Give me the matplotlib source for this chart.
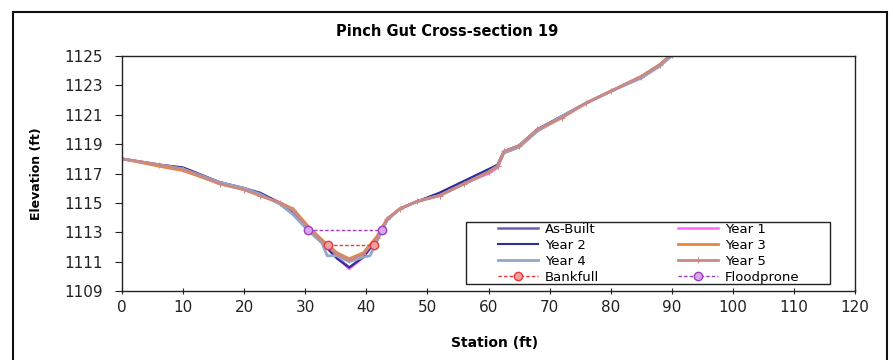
import matplotlib
matplotlib.use("Agg")
import matplotlib.pyplot as plt
from matplotlib.patches import Rectangle

plt.rcParams['font.family'] = ['DejaVu Sans']

title = "Pinch Gut Cross-section 19"
xlabel = "Station (ft)"
ylabel = "Elevation (ft)"

station = [0, 6, 10, 16, 20, 22.6, 25.9, 28, 30.5, 32.7, 35.2, 37.2, 39.5, 41.7, 43.4, 45.5, 48.3, 52, 56, 60, 61.5, 62.5, 65, 68, 72, 76, 80, 85, 88, 90]

as_built = [1118.0, 1117.6, 1117.4, 1116.4, 1116.0, 1115.6, 1115.0, 1114.4, 1113.2, 1112.3, 1111.3, 1110.6, 1111.3, 1112.5, 1113.9, 1114.6, 1115.1, 1115.6, 1116.4, 1117.2, 1117.6, 1118.5, 1118.9, 1120.0, 1120.9, 1121.8, 1122.6, 1123.6, 1124.4, 1125.1]
year1 = [1118.0, 1117.6, 1117.3, 1116.4, 1116.0, 1115.6, 1115.0, 1114.4, 1113.2, 1112.3, 1111.3, 1110.5, 1111.3, 1112.5, 1113.9, 1114.6, 1115.1, 1115.5, 1116.3, 1117.0, 1117.4, 1118.4, 1118.8, 1119.9, 1120.9, 1121.8, 1122.6, 1123.5, 1124.3, 1125.1]
year2 = [1118.0, 1117.6, 1117.4, 1116.4, 1116.0, 1115.7, 1115.0, 1114.4, 1113.2, 1112.3, 1111.2, 1110.6, 1111.3, 1112.5, 1113.9, 1114.6, 1115.1, 1115.7, 1116.5, 1117.3, 1117.6, 1118.5, 1118.9, 1120.0, 1120.9, 1121.8, 1122.6, 1123.6, 1124.4, 1125.1]
year3 = [1118.0, 1117.5, 1117.2, 1116.3, 1115.9, 1115.5, 1115.0, 1114.6, 1113.4, 1112.5, 1111.6, 1111.2, 1111.6, 1112.7, 1113.9, 1114.6, 1115.1, 1115.5, 1116.3, 1117.1, 1117.5, 1118.4, 1118.8, 1119.9, 1120.8, 1121.8, 1122.6, 1123.6, 1124.4, 1125.1]
year5 = [1118.0, 1117.6, 1117.3, 1116.3, 1115.9, 1115.5, 1115.0, 1114.5, 1113.3, 1112.4, 1111.5, 1111.1, 1111.5, 1112.6, 1113.9, 1114.6, 1115.1, 1115.5, 1116.3, 1117.1, 1117.5, 1118.5, 1118.9, 1120.0, 1120.8, 1121.8, 1122.6, 1123.6, 1124.4, 1125.1]

station_y4 = [0, 6, 10, 16, 20, 22.6, 25.9, 28, 30.5, 32.7, 33.6, 35.2, 37.2, 39.5, 40.6, 41.4, 43.4, 45.5, 48.3, 52, 56, 60, 61.5, 62.5, 65, 68, 72, 76, 80, 85, 88, 90]
year4 = [1118.0, 1117.6, 1117.3, 1116.4, 1116.0, 1115.6, 1114.9, 1114.2, 1113.1, 1112.3, 1111.4, 1111.4, 1111.0, 1111.3, 1111.4, 1112.1, 1113.8, 1114.6, 1115.1, 1115.5, 1116.3, 1117.1, 1117.5, 1118.4, 1118.8, 1119.9, 1120.9, 1121.8, 1122.6, 1123.5, 1124.3, 1125.0]

bankfull_x = [33.8, 41.3]
bankfull_y = [1112.15, 1112.15]
floodprone_x = [30.5, 42.5]
floodprone_y = [1113.18, 1113.18]

xticks = list(range(0, 121, 10))
yticks = list(range(1109, 1126, 2))

W, H = 893, 360
fig = plt.figure(figsize=(W / 100, H / 100), dpi=100)
ax = fig.add_axes([122 / W, 1 - 291 / H, 733 / W, 235 / H])

ax.plot(station, as_built, color='#6a5fb5', lw=1.8, label='As-Built')
ax.plot(station, year1, color='#ff66ff', lw=1.8, label='Year 1')
ax.plot(station, year2, color='#2e2e96', lw=1.5, label='Year 2')
ax.plot(station, year3, color='#e8873a', lw=2.0, label='Year 3')
ax.plot(station_y4, year4, color='#90a8cc', lw=2.0, label='Year 4')
ax.plot(station, year5, color='#c98a86', lw=2.0, marker='+', ms=4, mew=0.8, label='Year 5')
ax.plot(bankfull_x, bankfull_y, color='#e83a3a', lw=1.0, ls=(0, (2.5, 1.5)),
        marker='o', ms=6, mfc='#f0a0a0', mec='#e83a3a', label='Bankfull')
ax.plot(floodprone_x, floodprone_y, color='#9b3fc0', lw=1.0, ls=(0, (2.5, 1.5)),
        marker='o', ms=6, mfc='#d8a8e8', mec='#9b3fc0', label='Floodprone')

ax.set_xlim(0, 120)
ax.set_ylim(1109, 1125)
ax.set_xticks(xticks)
ax.set_yticks(yticks)
ax.tick_params(axis='y', labelsize=11, direction='out', length=5, width=0.8,
               colors='#222222', pad=9)
ax.tick_params(axis='x', labelsize=11, direction='inout', length=5, width=0.8,
               colors='#222222', pad=4)
for s in ax.spines.values():
    s.set_linewidth(1.0)
    s.set_color('#222222')

fig.text(447 / W, 1 - 32 / H, title, fontsize=10.5, fontweight='bold',
         ha='center', va='center')
ax.set_xlabel(xlabel, fontsize=10, fontweight='bold')
ax.xaxis.set_label_coords((495 - 122) / 733, (291 - 336) / 235)
ax.set_ylabel(ylabel, fontsize=9, fontweight='bold')
ax.yaxis.set_label_coords((43 - 122) / 733, 0.5)

# legend (row-wise order like the reference)
h, l = ax.get_legend_handles_labels()
order = [0, 2, 4, 6, 1, 3, 5, 7]
leg = ax.legend([h[i] for i in order], [l[i] for i in order], ncol=2,
                loc='upper left', bbox_to_anchor=(498 / W, 1 - 223 / H),
                bbox_transform=fig.transFigure, fontsize=9.5, frameon=False,
                handlelength=3.0, handletextpad=0.55, labelspacing=0.22,
                borderpad=0.0, columnspacing=6.0, borderaxespad=0)
box = Rectangle((466 / W, 1 - 284 / H), (830 - 466) / W, (284 - 222) / H,
                transform=fig.transFigure, fill=True, facecolor='white',
                edgecolor='#222222', lw=1.0, zorder=4, clip_on=False)
ax.add_patch(box)
leg.set_zorder(5)

border = Rectangle((0.015, -0.05), 0.978, 1.016, transform=fig.transFigure,
                   fill=False, edgecolor='#111111', lw=1.5)
fig.patches.append(border)

fig.savefig('out.png', dpi=100)
